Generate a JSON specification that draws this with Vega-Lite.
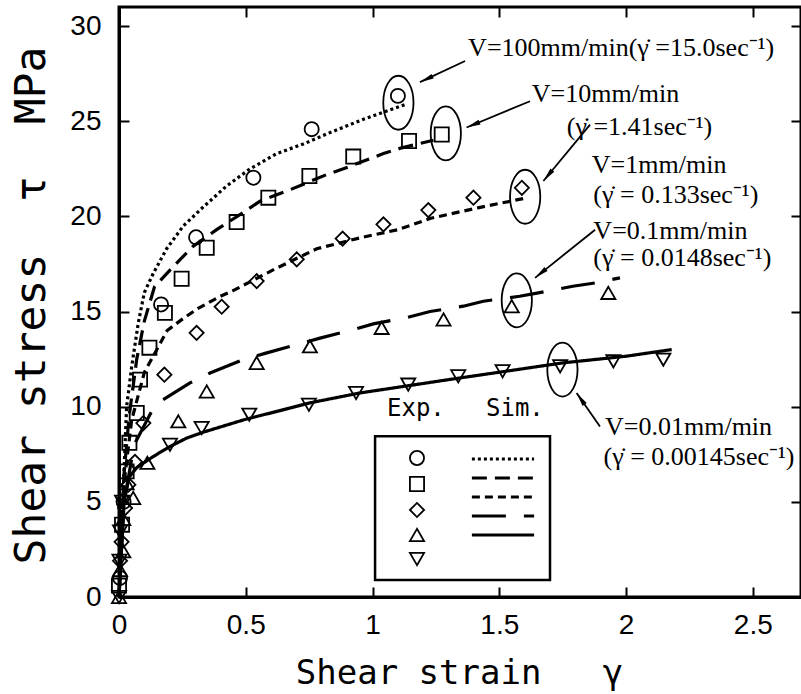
{
  "$schema": "https://vega.github.io/schema/vega-lite/v6.json",
  "width": 682,
  "height": 590,
  "autosize": {"type": "none"},
  "padding": {"left": 119, "top": 7, "right": 0, "bottom": 97},
  "background": "white",
  "config": {
    "view": {"stroke": "black", "strokeWidth": 3},
    "axis": {"grid": false, "domainColor": "black", "tickColor": "black", "labelColor": "black", "titleColor": "black"}
  },
  "datasets": {
    "exp": [
      {"series": "V=100", "x": 0.004, "y": 1.0}, {"series": "V=100", "x": 0.018, "y": 5.0},
      {"series": "V=100", "x": 0.166, "y": 15.37}, {"series": "V=100", "x": 0.304, "y": 18.9},
      {"series": "V=100", "x": 0.53, "y": 22.03}, {"series": "V=100", "x": 0.76, "y": 24.58},
      {"series": "V=100", "x": 1.1, "y": 26.33},
      {"series": "V=10", "x": 0.0, "y": 0.6}, {"series": "V=10", "x": 0.012, "y": 3.8},
      {"series": "V=10", "x": 0.03, "y": 6.6}, {"series": "V=10", "x": 0.041, "y": 8.1},
      {"series": "V=10", "x": 0.07, "y": 9.67}, {"series": "V=10", "x": 0.083, "y": 11.42},
      {"series": "V=10", "x": 0.12, "y": 13.1}, {"series": "V=10", "x": 0.181, "y": 14.93},
      {"series": "V=10", "x": 0.247, "y": 16.72}, {"series": "V=10", "x": 0.346, "y": 18.35},
      {"series": "V=10", "x": 0.464, "y": 19.7}, {"series": "V=10", "x": 0.589, "y": 20.98},
      {"series": "V=10", "x": 0.751, "y": 22.12}, {"series": "V=10", "x": 0.924, "y": 23.14},
      {"series": "V=10", "x": 1.144, "y": 23.96}, {"series": "V=10", "x": 1.273, "y": 24.3},
      {"series": "V=1", "x": 0.004, "y": 1.9}, {"series": "V=1", "x": 0.01, "y": 2.9},
      {"series": "V=1", "x": 0.024, "y": 4.67}, {"series": "V=1", "x": 0.037, "y": 5.9},
      {"series": "V=1", "x": 0.063, "y": 7.1}, {"series": "V=1", "x": 0.096, "y": 9.14},
      {"series": "V=1", "x": 0.179, "y": 11.68}, {"series": "V=1", "x": 0.306, "y": 13.88},
      {"series": "V=1", "x": 0.405, "y": 15.25}, {"series": "V=1", "x": 0.543, "y": 16.6},
      {"series": "V=1", "x": 0.701, "y": 17.74}, {"series": "V=1", "x": 0.882, "y": 18.83},
      {"series": "V=1", "x": 1.043, "y": 19.58}, {"series": "V=1", "x": 1.22, "y": 20.33},
      {"series": "V=1", "x": 1.398, "y": 20.98}, {"series": "V=1", "x": 1.589, "y": 21.5},
      {"series": "V=0.1", "x": 0.0, "y": 0.0}, {"series": "V=0.1", "x": 0.004, "y": 1.42},
      {"series": "V=0.1", "x": 0.017, "y": 2.4}, {"series": "V=0.1", "x": 0.017, "y": 4.1},
      {"series": "V=0.1", "x": 0.03, "y": 5.98}, {"series": "V=0.1", "x": 0.056, "y": 5.2},
      {"series": "V=0.1", "x": 0.112, "y": 7.05}, {"series": "V=0.1", "x": 0.234, "y": 9.23},
      {"series": "V=0.1", "x": 0.346, "y": 10.8}, {"series": "V=0.1", "x": 0.543, "y": 12.3},
      {"series": "V=0.1", "x": 0.753, "y": 13.17}, {"series": "V=0.1", "x": 1.036, "y": 14.14},
      {"series": "V=0.1", "x": 1.28, "y": 14.58}, {"series": "V=0.1", "x": 1.549, "y": 15.28},
      {"series": "V=0.1", "x": 1.93, "y": 15.98},
      {"series": "V=0.01", "x": 0.0, "y": 0.0}, {"series": "V=0.01", "x": 0.002, "y": 1.9},
      {"series": "V=0.01", "x": 0.004, "y": 3.44}, {"series": "V=0.01", "x": 0.012, "y": 5.0},
      {"series": "V=0.01", "x": 0.201, "y": 8.0}, {"series": "V=0.01", "x": 0.326, "y": 8.88},
      {"series": "V=0.01", "x": 0.514, "y": 9.58}, {"series": "V=0.01", "x": 0.749, "y": 10.1},
      {"series": "V=0.01", "x": 0.935, "y": 10.72}, {"series": "V=0.01", "x": 1.141, "y": 11.16},
      {"series": "V=0.01", "x": 1.338, "y": 11.6}, {"series": "V=0.01", "x": 1.513, "y": 11.86},
      {"series": "V=0.01", "x": 1.74, "y": 12.12}, {"series": "V=0.01", "x": 1.95, "y": 12.38},
      {"series": "V=0.01", "x": 2.147, "y": 12.47}
    ],
    "sim": [
      {"series": "V=100", "x": 0, "y": 0}, {"series": "V=100", "x": 0.015, "y": 5}, {"series": "V=100", "x": 0.03, "y": 10},
      {"series": "V=100", "x": 0.05, "y": 12.1}, {"series": "V=100", "x": 0.076, "y": 14.4}, {"series": "V=100", "x": 0.1, "y": 16.0},
      {"series": "V=100", "x": 0.135, "y": 17.0}, {"series": "V=100", "x": 0.188, "y": 18.3}, {"series": "V=100", "x": 0.254, "y": 19.5},
      {"series": "V=100", "x": 0.333, "y": 20.5}, {"series": "V=100", "x": 0.425, "y": 21.6}, {"series": "V=100", "x": 0.517, "y": 22.5},
      {"series": "V=100", "x": 0.622, "y": 23.3}, {"series": "V=100", "x": 0.727, "y": 23.8}, {"series": "V=100", "x": 0.832, "y": 24.4},
      {"series": "V=100", "x": 0.964, "y": 25.1}, {"series": "V=100", "x": 1.135, "y": 25.9},
      {"series": "V=10", "x": 0, "y": 0}, {"series": "V=10", "x": 0.02, "y": 6.5}, {"series": "V=10", "x": 0.04, "y": 9.5},
      {"series": "V=10", "x": 0.07, "y": 12.5}, {"series": "V=10", "x": 0.1, "y": 14.5}, {"series": "V=10", "x": 0.14, "y": 16.3},
      {"series": "V=10", "x": 0.21, "y": 17.3}, {"series": "V=10", "x": 0.29, "y": 18.4}, {"series": "V=10", "x": 0.385, "y": 19.3},
      {"series": "V=10", "x": 0.49, "y": 20.2}, {"series": "V=10", "x": 0.556, "y": 20.8}, {"series": "V=10", "x": 0.675, "y": 21.4},
      {"series": "V=10", "x": 0.82, "y": 22.2}, {"series": "V=10", "x": 0.885, "y": 22.5}, {"series": "V=10", "x": 1.043, "y": 23.3},
      {"series": "V=10", "x": 1.115, "y": 23.6}, {"series": "V=10", "x": 1.24, "y": 24.0},
      {"series": "V=1", "x": 0, "y": 0}, {"series": "V=1", "x": 0.02, "y": 6}, {"series": "V=1", "x": 0.05, "y": 9.3},
      {"series": "V=1", "x": 0.1, "y": 11.8}, {"series": "V=1", "x": 0.19, "y": 14.0}, {"series": "V=1", "x": 0.25, "y": 14.6},
      {"series": "V=1", "x": 0.31, "y": 15.15}, {"series": "V=1", "x": 0.4, "y": 15.8}, {"series": "V=1", "x": 0.45, "y": 16.1},
      {"series": "V=1", "x": 0.61, "y": 17.2}, {"series": "V=1", "x": 0.78, "y": 18.3}, {"series": "V=1", "x": 0.96, "y": 18.9},
      {"series": "V=1", "x": 1.1, "y": 19.3}, {"series": "V=1", "x": 1.23, "y": 19.9}, {"series": "V=1", "x": 1.42, "y": 20.46},
      {"series": "V=1", "x": 1.6, "y": 20.95},
      {"series": "V=0.1", "x": 0, "y": 0}, {"series": "V=0.1", "x": 0.02, "y": 5}, {"series": "V=0.1", "x": 0.06, "y": 8.0},
      {"series": "V=0.1", "x": 0.142, "y": 10.1}, {"series": "V=0.1", "x": 0.28, "y": 11.25}, {"series": "V=0.1", "x": 0.359, "y": 11.77},
      {"series": "V=0.1", "x": 0.49, "y": 12.47}, {"series": "V=0.1", "x": 0.576, "y": 12.8}, {"series": "V=0.1", "x": 0.7, "y": 13.26},
      {"series": "V=0.1", "x": 0.793, "y": 13.6}, {"series": "V=0.1", "x": 0.924, "y": 14.05}, {"series": "V=0.1", "x": 1.003, "y": 14.35},
      {"series": "V=0.1", "x": 1.14, "y": 14.7}, {"series": "V=0.1", "x": 1.227, "y": 15.0}, {"series": "V=0.1", "x": 1.358, "y": 15.28},
      {"series": "V=0.1", "x": 1.437, "y": 15.54}, {"series": "V=0.1", "x": 1.58, "y": 15.8}, {"series": "V=0.1", "x": 1.654, "y": 15.98},
      {"series": "V=0.1", "x": 1.79, "y": 16.33}, {"series": "V=0.1", "x": 1.877, "y": 16.5}, {"series": "V=0.1", "x": 1.976, "y": 16.77},
      {"series": "V=0.01", "x": 0, "y": 0}, {"series": "V=0.01", "x": 0.02, "y": 5}, {"series": "V=0.01", "x": 0.04, "y": 6.3},
      {"series": "V=0.01", "x": 0.07, "y": 6.8}, {"series": "V=0.01", "x": 0.135, "y": 7.38}, {"series": "V=0.01", "x": 0.2, "y": 7.9},
      {"series": "V=0.01", "x": 0.267, "y": 8.35}, {"series": "V=0.01", "x": 0.33, "y": 8.65}, {"series": "V=0.01", "x": 0.49, "y": 9.3},
      {"series": "V=0.01", "x": 0.753, "y": 10.2}, {"series": "V=0.01", "x": 0.95, "y": 10.72}, {"series": "V=0.01", "x": 1.14, "y": 11.1},
      {"series": "V=0.01", "x": 1.34, "y": 11.5}, {"series": "V=0.01", "x": 1.52, "y": 11.85}, {"series": "V=0.01", "x": 1.75, "y": 12.3},
      {"series": "V=0.01", "x": 2.0, "y": 12.65}, {"series": "V=0.01", "x": 2.18, "y": 13.0}
    ],
    "callouts": [
      {"series": "V=100", "ex": 1.102, "ey": 25.97, "ax": 1.365, "ay": 28.16, "bx": 1.187, "by": 27.05},
      {"series": "V=10", "ex": 1.289, "ey": 24.36, "ax": 1.621, "ay": 26.05, "bx": 1.371, "by": 24.67},
      {"series": "V=1", "ex": 1.602, "ey": 21.03, "ax": 1.858, "ay": 24.82, "bx": 1.674, "by": 21.86},
      {"series": "V=0.1", "ex": 1.569, "ey": 15.59, "ax": 1.878, "ay": 19.3, "bx": 1.641, "by": 16.77},
      {"series": "V=0.01", "ex": 1.749, "ey": 11.95, "ax": 1.897, "ay": 8.96, "bx": 1.805, "by": 10.72}
    ],
    "labels": [
      {"line": "V=100mm/min(γ̇ =15.0sec⁻¹)", "tx": 1.377, "ty": 28.4},
      {"line": "V=10mm/min", "tx": 1.628, "ty": 26.0},
      {"line": "(γ̇ =1.41sec⁻¹)", "tx": 1.766, "ty": 24.3},
      {"line": "V=1mm/min", "tx": 1.865, "ty": 22.3},
      {"line": "(γ̇ = 0.133sec⁻¹)", "tx": 1.871, "ty": 20.72},
      {"line": "V=0.1mm/min", "tx": 1.871, "ty": 18.79},
      {"line": "(γ̇ = 0.0148sec⁻¹)", "tx": 1.871, "ty": 17.38},
      {"line": "V=0.01mm/min", "tx": 1.917, "ty": 8.53},
      {"line": "(γ̇ = 0.00145sec⁻¹)", "tx": 1.911, "ty": 6.95}
    ]
  },
  "layer": [
    {
      "data": {"name": "sim"},
      "mark": {"type": "line", "color": "black", "strokeWidth": 3.2},
      "encoding": {
        "x": {"field": "x", "type": "quantitative", "scale": {"domain": [0, 2.69], "nice": false, "zero": false},
              "axis": {"orient": "top", "labels": false, "title": null, "domain": false, "values": [0.5, 1, 1.5, 2, 2.5], "tickSize": -10, "tickWidth": 2}},
        "y": {"field": "y", "type": "quantitative", "scale": {"domain": [0, 31], "nice": false},
              "axis": {"orient": "right", "labels": false, "title": null, "domain": false, "values": [5, 10, 15, 20, 25, 30], "tickSize": -10, "tickWidth": 2}},
        "strokeDash": {"field": "series", "type": "nominal", "sort": ["V=100", "V=10", "V=1", "V=0.1", "V=0.01"],
              "scale": {"range": [[3, 3], [15, 8], [8, 5], [34, 18], [1, 0]]},
              "legend": {"title": "Sim.", "orient": "none", "legendX": 367, "legendY": 390, "labelExpr": "''", "labelFontSize": 8, "labelOffset": 0,
                         "symbolType": "M-4.4,0L4.4,0", "symbolSize": 200, "symbolOffset": 8, "symbolStrokeWidth": 3, "symbolStrokeColor": "black",
                         "titleFont": "DejaVu Sans Mono", "titleFontSize": 24, "titleFontWeight": "normal", "titlePadding": 29, "rowPadding": 4, "padding": 0}}
      }
    },
    {
      "data": {"name": "exp"},
      "mark": {"type": "point", "filled": false, "color": "black", "strokeWidth": 1.8, "size": 200, "opacity": 1},
      "encoding": {
        "x": {"field": "x", "type": "quantitative",
              "axis": {"orient": "bottom", "values": [0, 0.5, 1, 1.5, 2, 2.5], "format": "~g", "labelFlush": false, "labelFont": "Liberation Sans", "labelFontSize": 28,
                       "labelPadding": 24, "tickSize": -10, "tickWidth": 2, "domainWidth": 3,
                       "title": "Shear\u00a0strain\u00a0\u00a0\u00a0γ", "titleFont": "DejaVu Sans Mono", "titleFontSize": 34, "titleFontWeight": "normal",
                       "titleX": 340, "titleY": 86, "titleAlign": "center", "titleBaseline": "alphabetic"}},
        "y": {"field": "y", "type": "quantitative",
              "axis": {"orient": "left", "values": [0, 5, 10, 15, 20, 25, 30], "format": "d", "labelFont": "Liberation Sans", "labelFontSize": 28,
                       "labelPadding": 28, "tickSize": -10, "tickWidth": 2, "domainWidth": 3,
                       "title": "Shear\u00a0stress\u00a0\u00a0τ\u00a0\u00a0MPa", "titleFont": "DejaVu Sans Mono", "titleFontSize": 43, "titleFontWeight": "normal",
                       "titleAngle": -90, "titleX": -88, "titleY": 298, "titleAlign": "center", "titleBaseline": "middle"}},
        "shape": {"field": "series", "type": "nominal", "sort": ["V=100", "V=10", "V=1", "V=0.1", "V=0.01"],
              "scale": {"range": ["circle", "square", "diamond", "triangle-up", "triangle-down"]},
              "legend": {"title": "Exp.", "orient": "none", "legendX": 268, "legendY": 390, "labelExpr": "''", "labelFontSize": 8, "labelOffset": 0,
                         "symbolSize": 200, "symbolOffset": 22, "symbolStrokeWidth": 1.8, "symbolStrokeColor": "black", "symbolFillColor": "white",
                         "titleFont": "DejaVu Sans Mono", "titleFontSize": 24, "titleFontWeight": "normal", "titlePadding": 29, "rowPadding": 4, "padding": 0}}
      }
    },
    {
      "data": {"name": "callouts"},
      "mark": {"type": "point", "filled": false, "color": "black", "strokeWidth": 1.8, "size": 2916, "opacity": 1,
               "shape": "M0,-1C0.31,-1 0.56,-0.55 0.56,0C0.56,0.55 0.31,1 0,1C-0.31,1 -0.56,0.55 -0.56,0C-0.56,-0.55 -0.31,-1 0,-1Z"},
      "encoding": {
        "x": {"field": "ex", "type": "quantitative", "axis": null},
        "y": {"field": "ey", "type": "quantitative", "axis": null}
      }
    },
    {
      "data": {"name": "callouts"},
      "mark": {"type": "rule", "color": "black", "strokeWidth": 1.8},
      "encoding": {
        "x": {"field": "ax", "type": "quantitative", "axis": null},
        "y": {"field": "ay", "type": "quantitative", "axis": null},
        "x2": {"field": "bx"},
        "y2": {"field": "by"}
      }
    },
    {
      "data": {"name": "callouts"},
      "transform": [{"calculate": "atan2((datum.bx - datum.ax) * 253.5, (datum.by - datum.ay) * 19) * 180 / PI", "as": "ang"}],
      "mark": {"type": "point", "filled": true, "color": "black", "size": 196, "opacity": 1, "shape": "M0,0L0.36,2L-0.36,2Z"},
      "encoding": {
        "x": {"field": "bx", "type": "quantitative", "axis": null},
        "y": {"field": "by", "type": "quantitative", "axis": null},
        "angle": {"field": "ang", "type": "quantitative", "scale": null}
      }
    },
    {
      "data": {"name": "labels"},
      "mark": {"type": "text", "font": "Liberation Serif", "fontSize": 26, "align": "left", "baseline": "alphabetic", "color": "black"},
      "encoding": {
        "x": {"field": "tx", "type": "quantitative", "axis": null},
        "y": {"field": "ty", "type": "quantitative", "axis": null},
        "text": {"field": "line", "type": "nominal"}
      }
    },
    {
      "data": {"values": [{}]},
      "mark": {"type": "rect", "filled": false, "stroke": "black", "strokeWidth": 2.5},
      "encoding": {
        "x": {"datum": 1.01, "type": "quantitative", "axis": null},
        "x2": {"datum": 1.7},
        "y": {"datum": 8.44, "type": "quantitative", "axis": null},
        "y2": {"datum": 0.89}
      }
    }
  ],
  "resolve": {"axis": {"x": "independent", "y": "independent"}}
}
